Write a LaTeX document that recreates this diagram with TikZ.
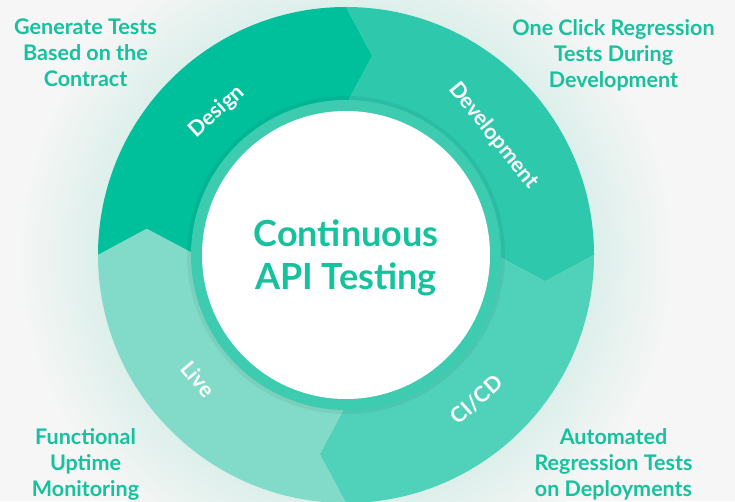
\documentclass[tikz,border=0pt]{standalone}
\usepackage{fontspec}
\setmainfont{Lato}

\definecolor{bgc}{HTML}{F6F6F6}
\definecolor{glowc}{HTML}{DCEFEA}
\definecolor{cdesign}{HTML}{00BF9B}
\definecolor{cdevel}{HTML}{2EC8AD}
\definecolor{ccicd}{HTML}{50D1B9}
\definecolor{clive}{HTML}{82DBC8}
\definecolor{cband}{HTML}{3ECCB1}
\definecolor{cnote}{HTML}{16C29D}

\pgfdeclareradialshading{ringglow}{\pgfpoint{0bp}{0bp}}{color(0bp)=(glowc); color(18.5bp)=(glowc); color(25bp)=(bgc); color(50bp)=(bgc)}

\tikzstyle{note}=[text=cnote, align=center, inner sep=0pt, anchor=north, font=\bfseries\fontsize{21.5}{26}\selectfont]
\tikzstyle{phase}=[text=white, inner sep=0pt, font=\bfseries\fontsize{21.5}{24}\selectfont]

\begin{document}
\begin{tikzpicture}[x=1pt,y=1pt]
\useasboundingbox (0,0) rectangle (735,501);
\clip (0,0) rectangle (735,501);
\fill[bgc] (0,0) rectangle (735,501);
\shade[shading=ringglow] (346,246) circle[radius=330];

\begin{scope}[shift={(346,246)}]
% four phases, each chevron points clockwise
\fill[cdesign] (180:248) arc[start angle=180, end angle=90, radius=248] -- (82.5:201) -- (90:150)
  arc[start angle=90, end angle=180, radius=150] -- (172.5:201) -- cycle;
\fill[cdevel] (90:248) arc[start angle=90, end angle=0, radius=248] -- (-7.5:201) -- (0:150)
  arc[start angle=0, end angle=90, radius=150] -- (82.5:201) -- cycle;
\fill[ccicd] (0:248) arc[start angle=0, end angle=-90, radius=248] -- (-97.5:201) -- (-90:150)
  arc[start angle=-90, end angle=0, radius=150] -- (-7.5:201) -- cycle;
\fill[clive] (-90:248) arc[start angle=-90, end angle=-180, radius=248] -- (-187.5:201) -- (-180:150)
  arc[start angle=-180, end angle=-90, radius=150] -- (-97.5:201) -- cycle;

% band round the middle
\fill[black, opacity=0.05] (0,0) circle[radius=159];
\fill[cband] (0,0) circle[radius=155];
\fill[white] (0,0) circle[radius=144];

\node (design) at (132:193) [phase, rotate=42]  {Design};
\node (devel)  at (39:190)  [phase, rotate=-51] {Development};
\node (cicd)   at (-48:195) [phase, rotate=42]  {CI/CD};
\node (live)   at (220:193) [phase, rotate=-50] {Live};
\end{scope}

\node (title) at (346,243) [text=cnote, align=center, font=\bfseries\fontsize{36}{43}\selectfont] {Continuous\\API Testing};

\node (gen)   at (85.5,482)  [note] {Generate Tests\\Based on the\\Contract};
\node (click) at (613.5,482) [note] {One Click Regression\\Tests During\\Development};
\node (func)  at (85.5,73)   [note] {Functional\\Uptime\\Monitoring};
\node (auto)  at (613.5,73)  [note] {Automated\\Regression Tests\\on Deployments};
\end{tikzpicture}
\end{document}
